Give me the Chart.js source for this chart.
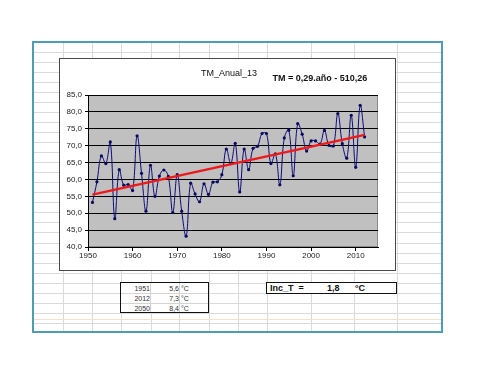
<!DOCTYPE html>
<html>
<head>
<meta charset="utf-8">
<script src="https://cdn.jsdelivr.net/npm/chart.js@4"></script>
<style>
  body { margin: 0; width: 500px; height: 376px; background: #fff; position: relative; overflow: hidden;
         font-family: 'Liberation Sans', Arial, sans-serif; }
  .abs { position: absolute; }
  #sheet { left: 32px; top: 41px; width: 407px; height: 288px; border: 2px solid #4f9db2; background: #fff; overflow: hidden; }
  .vl { position: absolute; top: 0; bottom: 0; width: 1px; background: #dadada; }
  .hl { position: absolute; left: 0; right: 0; height: 1px; background: #dadada; }
  #box { left: 59px; top: 58px; width: 335px; height: 211px; border: 1px solid #4a4a4a; background: #fff; }
  #tbl { left: 120px; top: 282px; width: 87px; height: 29px; border: 1.5px solid #111; background: #fff; }
  #tbl div { position: absolute; font-size: 7px; color: #333; line-height: 9px; }
  #inc { left: 266px; top: 282px; width: 129px; height: 10px; border: 1.5px solid #111; background: #fff; }
  #inc div { position: absolute; font-size: 9px; font-weight: bold; color: #111; line-height: 10px; top: 0; }
</style>
</head>
<body>
<div id="sheet" class="abs"></div>
<div id="box" class="abs"><canvas id="chart" width="335" height="211"></canvas></div>
<div id="tbl" class="abs"></div>
<div id="inc" class="abs">
  <div style="left:3px">Inc_T&nbsp; =</div>
  <div style="left:60px">1,8</div>
  <div style="left:88px">°C</div>
</div>
<script>
// valores anuales (décimas de grado)
const years = [1951,1952,1953,1954,1955,1956,1957,1958,1959,1960,
  1961,1962,1963,1964,1965,1966,1967,1968,1969,1970,
  1971,1972,1973,1974,1975,1976,1977,1978,1979,1980,
  1981,1982,1983,1984,1985,1986,1987,1988,1989,1990,
  1991,1992,1993,1994,1995,1996,1997,1998,1999,2000,
  2001,2002,2003,2004,2005,2006,2007,2008,2009,2010,
  2011,2012]
const tm = [53.2,59.3,67.0,64.7,71.1,48.4,62.9,58.3,58.5,56.7,
  72.9,61.8,50.6,64.2,55.0,61.0,62.8,60.9,50.2,61.4,
  50.6,43.2,58.9,55.7,53.4,58.7,55.6,59.2,59.3,61.4,
  69.0,64.7,70.7,56.3,69.0,62.9,69.2,69.8,73.6,73.6,
  64.7,67.6,58.4,72.3,74.6,61.1,76.5,73.4,68.4,71.4,
  71.4,70.5,74.5,70.1,69.9,79.5,70.6,66.3,79.0,63.6,
  81.9,72.6]

// recta de tendencia (extremos)
const trendYears = [1951, 2012]
const trendTM = [55.5, 73.2]

const xTicks = [1950,1960,1970,1980,1990,2000,2010]
const yTicks = [40,45,50,55,60,65,70,75,80,85]

const chartTitle = 'TM_Anual_13'
const equation = 'TM = 0,29.año - 510,26'

// tabla de abajo
const tblYears = ['1951','2012','2050']
const tblTemps = ['5,6','7,3','8,4']

// hoja de cálculo de fondo
const sheet = document.getElementById('sheet')
const colX = [29.3, 57.7, 87, 116.7, 145.3, 175.3, 204.3, 233.3, 276.7, 320.3, 363.3]
for (const x of colX) {
  const d = document.createElement('div')
  d.className = 'vl'
  d.style.left = x + 'px'
  sheet.appendChild(d)
}
for (let k = 1; k < 29; k++) {
  const d = document.createElement('div')
  d.className = 'hl'
  d.style.top = (-1.3 + k * 10.04) + 'px'
  sheet.appendChild(d)
}
const orange = document.createElement('div')
orange.className = 'hl'
orange.style.top = '276px'
orange.style.background = '#f6e2cc'
sheet.appendChild(orange)

const tbl = document.getElementById('tbl')
for (let i = 1; i < 3; i++) {
  const d = document.createElement('div')
  d.style.cssText = `left:0;right:0;top:${i*10-0.5}px;height:1px;background:#d4d4d4`
  tbl.appendChild(d)
}
for (const x of [29, 58]) {
  const d = document.createElement('div')
  d.style.cssText = `top:0;bottom:0;left:${x}px;width:1px;background:#d4d4d4`
  tbl.appendChild(d)
}
tblYears.forEach((y, i) => {
  const a = document.createElement('div')
  a.style.cssText = `right:58px;top:${i*10+0.5}px`
  a.innerText = y
  tbl.appendChild(a)
  const b = document.createElement('div')
  b.style.cssText = `right:29px;top:${i*10+0.5}px`
  b.innerText = tblTemps[i]
  tbl.appendChild(b)
  const c = document.createElement('div')
  c.style.cssText = `left:60px;top:${i*10+0.5}px`
  c.innerText = '°C'
  tbl.appendChild(c)
})

const font = "'Liberation Sans', Arial, sans-serif"

const plotBg = {
  id: 'plotBg',
  beforeDraw(chart) {
    const { ctx, chartArea: a } = chart
    ctx.save()
    ctx.fillStyle = '#c0c0c0'
    ctx.fillRect(a.left, a.top, a.width, a.height)
    ctx.strokeStyle = '#8a8a8a'
    ctx.lineWidth = 1
    ctx.strokeRect(a.left + 0.5, a.top + 0.5, a.width - 1, a.height - 1)
    ctx.restore()
  },
  afterDraw(chart) {
    const { ctx } = chart
    ctx.save()
    ctx.fillStyle = '#111'
    ctx.textBaseline = 'middle'
    ctx.textAlign = 'center'
    ctx.font = `9px ${font}`
    ctx.fillText(chartTitle, 169, 14.5)
    ctx.textAlign = 'left'
    ctx.font = `bold 9px ${font}`
    ctx.fillText(equation, 212.5, 20)
    ctx.restore()
  }
}

const chart = new Chart(document.getElementById('chart'), {
  type: 'scatter',
  data: {
    datasets: [{
      label: 'TM',
      data: years.map((y, i) => ({ x: y, y: tm[i] })),
      showLine: true,
      tension: 0.4,
      borderColor: '#0a0a78',
      borderWidth: 1,
      pointStyle: 'circle',
      pointRadius: 1.6,
      pointBackgroundColor: '#0a0a60',
      pointBorderColor: '#0a0a60',
      pointBorderWidth: 0,
      order: 1
    }, {
      label: 'Tendencia',
      data: trendYears.map((y, i) => ({ x: y, y: trendTM[i] })),
      showLine: true,
      borderColor: '#f01818',
      borderWidth: 2.5,
      pointRadius: 0,
      order: 0
    }]
  },
  options: {
    responsive: false,
    animation: false,
    layout: { padding: { top: 36, right: 17, left: 0, bottom: 0 } },
    plugins: { legend: { display: false }, tooltip: { enabled: false } },
    scales: {
      x: {
        type: 'linear', min: 1950, max: 2015,
        afterBuildTicks: s => { s.ticks = xTicks.map(v => ({ value: v })) },
        afterFit: s => { s.height = 23 },
        grid: { drawOnChartArea: false, tickLength: 4, color: '#000' },
        border: { color: '#000' },
        ticks: {
          font: { family: font, size: 8 }, color: '#222', padding: 0, maxRotation: 0,
          callback: v => String(v)
        }
      },
      y: {
        min: 40, max: 85,
        afterBuildTicks: s => { s.ticks = yTicks.map(v => ({ value: v })) },
        afterFit: s => { s.width = 28 },
        grid: { color: '#000', tickLength: 3, tickColor: '#000' },
        border: { color: '#000' },
        ticks: {
          font: { family: font, size: 8 }, color: '#222', padding: 3,
          callback: v => v.toFixed(1).replace('.', ',')
        }
      }
    }
  },
  plugins: [plotBg]
})
</script>
</body>
</html>
